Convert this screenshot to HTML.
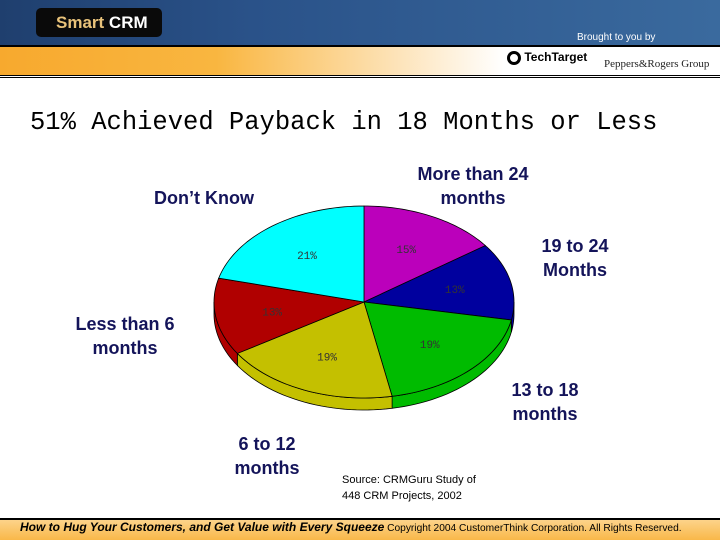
<!DOCTYPE html>
<html><head><meta charset="utf-8"><style>
body{margin:0;width:720px;height:540px;overflow:hidden;background:#fff;font-family:"Liberation Sans",sans-serif;position:relative}
.lbl{position:absolute;color:#14145a;font-weight:bold;font-size:18px;text-align:center;line-height:24px}
</style></head><body>
<div style="position:absolute;left:0;top:0;width:720px;height:45px;background:linear-gradient(90deg,#1f3f6e 0%,#2a5289 35%,#3a6a9e 100%)"></div>
<div style="position:absolute;left:36px;top:8px;width:126px;height:29px;background:#0a0a0a;border-radius:5px;font-weight:bold;font-size:17px;line-height:29px;padding-left:20px;box-sizing:border-box"><span style="color:#e8c27a">Smart</span> <span style="color:#fff">CRM</span></div>
<div style="position:absolute;left:577px;top:32px;color:#fff;font-size:10px">Brought to you by</div>
<div style="position:absolute;left:0;top:45px;width:720px;height:2px;background:#000"></div>
<div style="position:absolute;left:0;top:47px;width:720px;height:28px;background:linear-gradient(90deg,#f7a92e 0%,#f9b640 30%,#fde3b8 55%,#fff 70%)"></div>
<div style="position:absolute;left:507px;top:50px;font-size:12px;font-weight:bold;color:#000"><span style="display:inline-block;width:14px;height:14px;border:3px solid #000;border-radius:50%;box-sizing:border-box;vertical-align:middle"></span> TechTarget</div>
<div style="position:absolute;left:604px;top:58px;font-size:11px;font-family:'Liberation Serif',serif;color:#222">Peppers&amp;Rogers Group</div>
<div style="position:absolute;left:0;top:75px;width:720px;height:1px;background:#000"></div>
<div style="position:absolute;left:0;top:77px;width:720px;height:1px;background:#000"></div>
<div style="position:absolute;left:30px;top:108px;font-family:'Liberation Mono',monospace;font-size:25.5px;color:#000">51% Achieved Payback in 18 Months or Less</div>
<svg id="pie" width="720" height="540" style="position:absolute;left:0;top:0"></svg>
<div class="lbl" style="left:140px;top:186px;width:128px">Don’t Know</div>
<div class="lbl" style="left:400px;top:162px;width:146px">More than 24<br>months</div>
<div class="lbl" style="left:520px;top:234px;width:110px">19 to 24<br>Months</div>
<div class="lbl" style="left:60px;top:312px;width:130px">Less than 6<br>months</div>
<div class="lbl" style="left:490px;top:378px;width:110px">13 to 18<br>months</div>
<div class="lbl" style="left:212px;top:432px;width:110px">6 to 12<br>months</div>
<div style="position:absolute;left:342px;top:472px;font-size:11px;line-height:16px;color:#000">Source: CRMGuru Study of<br>448 CRM Projects, 2002</div>
<div style="position:absolute;left:0;top:518px;width:720px;height:2px;background:#000"></div>
<div style="position:absolute;left:0;top:520px;width:720px;height:20px;background:linear-gradient(180deg,#fcd38a,#f9b849);font-size:10.2px;line-height:15px;color:#000;white-space:nowrap"><span style="margin-left:20px;font-weight:bold;font-style:italic;font-size:12px">How to Hug Your Customers, and Get Value with Every Squeeze</span> Copyright 2004 CustomerThink Corporation. All Rights Reserved.</div>
<script>
const categories=["More than 24 months","19 to 24 Months","13 to 18 months","6 to 12 months","Less than 6 months","Don't Know"];
const values=[15,13,19,19,13,21];
const valueLabels=["15%","13%","19%","19%","13%","21%"];
const colors=["#bb00bb","#00009e","#00bb00","#c4c000","#b00000","#00ffff"];
const svg=document.getElementById('pie');
const NS="http://www.w3.org/2000/svg";
const cx=364,cy=302,rx=150,ry=96,depth=12;
const total=values.reduce((a,b)=>a+b,0);
function pt(a,dy){return [cx+rx*Math.sin(a),cy-ry*Math.cos(a)+(dy||0)];}
function arc(a0,a1,dy,n){let s=[];for(let i=0;i<=n;i++){const a=a0+(a1-a0)*i/n;s.push(pt(a,dy));}return s;}
let cum=0;const angs=[];
values.forEach(v=>{const a0=cum/total*2*Math.PI;cum+=v;angs.push([a0,cum/total*2*Math.PI]);});
angs.forEach(([a0,a1],i)=>{
  const s0=Math.max(a0,Math.PI/2),s1=Math.min(a1,3*Math.PI/2);
  if(s1<=s0)return;
  const top=arc(s0,s1,0,30),bot=arc(s1,s0,depth,30);
  const p=document.createElementNS(NS,'path');
  p.setAttribute('d','M'+top.concat(bot).map(q=>q.join(',')).join('L')+'Z');
  p.setAttribute('fill',colors[i]);p.setAttribute('stroke','#000');p.setAttribute('stroke-width','0.8');
  
  
  svg.appendChild(p);
});
angs.forEach(([a0,a1],i)=>{
  const pts=arc(a0,a1,0,40);
  const p=document.createElementNS(NS,'path');
  p.setAttribute('d','M'+cx+','+cy+'L'+pts.map(q=>q.join(',')).join('L')+'Z');
  p.setAttribute('fill',colors[i]);p.setAttribute('stroke','#000');p.setAttribute('stroke-width','0.8');
  
  
  svg.appendChild(p);
  const m=(a0+a1)/2;const lp=[cx+rx*0.62*Math.sin(m),cy-ry*0.62*Math.cos(m)+4];
  const t=document.createElementNS(NS,'text');
  t.setAttribute('x',lp[0]);t.setAttribute('y',lp[1]);t.setAttribute('text-anchor','middle');
  t.setAttribute('font-family','Liberation Mono, monospace');t.setAttribute('font-size','11');t.setAttribute('fill','#333');
  
  
  t.textContent=valueLabels[i];svg.appendChild(t);
});
</script>
</body></html>
